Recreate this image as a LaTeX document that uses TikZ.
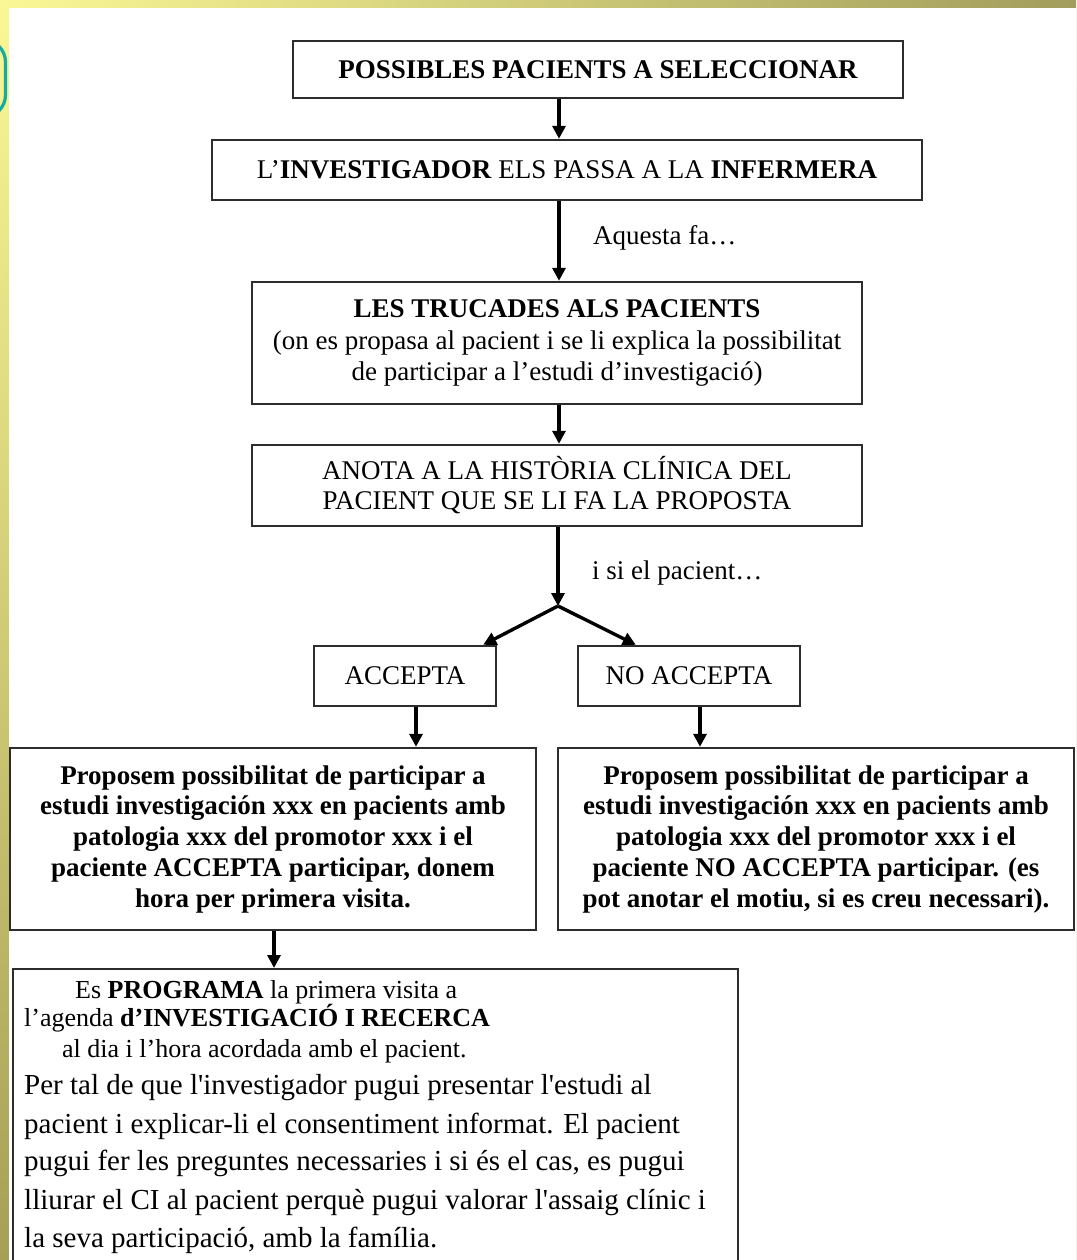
\documentclass[tikz,border=0pt]{standalone}
\usepackage{fontspec}
\setmainfont{Liberation Serif}
\usetikzlibrary{arrows.meta,calc,shadings}
\definecolor{yelL}{RGB}{250,248,150}
\definecolor{olvR}{RGB}{162,157,92}
\definecolor{olvB}{RGB}{165,160,86}
\definecolor{olvD}{RGB}{140,135,75}
\definecolor{tealc}{RGB}{22,170,160}
\definecolor{boxc}{RGB}{45,45,45}
\newcommand\myfs{\fontsize{27}{31}\selectfont}
\newcommand\mybf{\fontsize{27}{31}\selectfont\bfseries}
\newcommand\myfp{\fontsize{29}{38}\selectfont}
\newcommand\myfa{\fontsize{26}{30}\selectfont}
\newcommand\sq{\textquotesingle}
\begin{document}
\begin{tikzpicture}[x=1pt,y=-1pt,
  box/.style={draw=boxc, line width=2.4pt, fill=white, inner sep=0pt, align=center, font=\myfs},
  arr/.style={line width=3.4pt, -{Triangle[length=13pt,width=13pt]}},
  lbl/.style={inner sep=0pt, anchor=west, font=\myfs},
  para/.style={inner sep=0pt, anchor=west, font=\myfp, text height=0.68em, text depth=0.2em},
  paraa/.style={inner sep=0pt, anchor=west, font=\myfa, text height=0.68em, text depth=0.2em}]
\useasboundingbox (0,0) rectangle (1076,1260);
\clip (0,0) rectangle (1076,1260);
% background frame
\shade[upper left=yelL, upper right=olvR, lower left=olvB, lower right=olvD] (0,0) rectangle (1076,1260);
\fill[white] (9,8) rectangle (1076,1260);
\draw[tealc, line width=3.2pt, rounded corners=22pt] (-80,40) rectangle (5.5,117);
% boxes
\node[box, font=\mybf, minimum width=610pt, minimum height=57pt] (b1) at (598,69.5) {POSSIBLES PACIENTS A SELECCIONAR};
\node[box, minimum width=710pt, minimum height=60pt] (b2) at (567,170) {L’\textbf{INVESTIGADOR} ELS PASSA A LA \textbf{INFERMERA}};
\node[box, minimum width=610pt, minimum height=122pt, font=\fontsize{27}{31.5}\selectfont] (b3) at (557,343)
  {\textbf{LES TRUCADES ALS PACIENTS}\\(on es propasa al pacient i se li explica la possibilitat\\de participar a l’estudi d’investigació)};
\node[box, minimum width=610pt, minimum height=81pt, font=\fontsize{27}{30}\selectfont] (b4) at (557,485.5)
  {ANOTA A LA HISTÒRIA CLÍNICA DEL\\PACIENT QUE SE LI FA LA PROPOSTA};
\node[box, minimum width=182pt, minimum height=60pt] (acc) at (405,676) {ACCEPTA};
\node[box, minimum width=222pt, minimum height=60pt] (nacc) at (689,676) {NO ACCEPTA};
\node[box, minimum width=526pt, minimum height=182pt, font=\fontsize{27}{30.75}\selectfont\bfseries] (lb) at (273,839)
  {Proposem possibilitat de participar a\\estudi investigación xxx en pacients amb\\patologia xxx del promotor xxx i el\\paciente ACCEPTA participar, donem\\hora per primera visita.};
\node[box, minimum width=516pt, minimum height=182pt, font=\fontsize{27}{30.75}\selectfont\bfseries] (rb) at (816,839)
  {Proposem possibilitat de participar a\\estudi investigación xxx en pacients amb\\patologia xxx del promotor xxx i el\\paciente NO ACCEPTA participar. (es\\pot anotar el motiu, si es creu necessari).};
\node[box, anchor=north west, minimum width=725pt, minimum height=320pt] (bb) at (12,968) {};
% labels
\node[lbl] (la) at (593,238) {Aquesta fa…};
\node[lbl] (lp) at (592,573) {i si el pacient…};
% bottom box text
\node[paraa] (t1) at (75,996) {Es \textbf{PROGRAMA} la primera visita a};
\node[paraa] (t2) at (24,1024) {l’agenda \textbf{d’INVESTIGACIÓ I RECERCA}};
\node[paraa] (t3) at (62,1055) {al dia i l’hora acordada amb el pacient.};
\node[para] (t4) at (24,1092) {Per tal de que l\sq investigador pugui presentar l\sq estudi al};
\node[para] (t5) at (24,1131) {pacient i explicar-li el consentiment informat. El pacient};
\node[para] (t6) at (24,1168) {pugui fer les preguntes necessaries i si és el cas, es pugui};
\node[para] (t7) at (24,1207) {lliurar el CI al pacient perquè pugui valorar l\sq assaig clínic i};
\node[para] (t8) at (24,1245) {la seva participació, amb la família.};
% connectors
\coordinate (sp) at (559,0);
\coordinate (br) at (558,606);
\coordinate (ax) at (416,0);
\coordinate (nx) at (700,0);
\coordinate (lx) at (274,0);
\draw[arr] (b1.south -| sp) -- (b2.north -| sp);
\draw[arr] (b2.south -| sp) -- (b3.north -| sp);
\draw[arr] (b3.south -| sp) -- (b4.north -| sp);
\draw[arr] (b4.south -| br) -- (br);
\draw[arr] (br) -- ($(acc.north east)+(-14,0)$);
\draw[arr] (br) -- ($(nacc.north west)+(59,0)$);
\draw[arr] (acc.south -| ax) -- (lb.north -| ax);
\draw[arr] (nacc.south -| nx) -- (rb.north -| nx);
\draw[arr] (lb.south -| lx) -- (bb.north -| lx);
\end{tikzpicture}
\end{document}
